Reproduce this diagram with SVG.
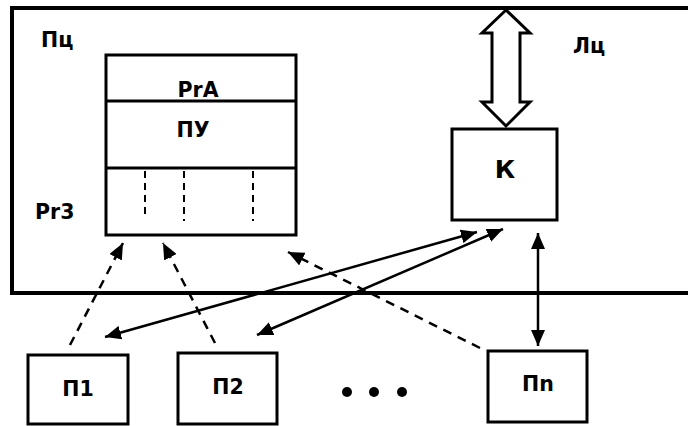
<svg xmlns="http://www.w3.org/2000/svg" width="688" height="426" viewBox="0 0 688 426">
<defs>
<marker id="ah" viewBox="0 0 16 14" refX="16" refY="7" markerWidth="16" markerHeight="14" markerUnits="userSpaceOnUse" orient="auto-start-reverse">
<path d="M0,0 L16,7 L0,14 Z" fill="#000"/>
</marker>
<style>
.t{font-family:"DejaVu Sans","Liberation Sans",Arial,sans-serif;font-weight:bold;font-size:20.5px;fill:#000}
.big{font-size:25px}
.box{fill:#fff;stroke:#000;stroke-width:3}
.ln{fill:none;stroke:#000;stroke-width:2.5}
.dl{fill:none;stroke:#000;stroke-width:2.5;stroke-dasharray:9,7}
.rd{fill:none;stroke:#000;stroke-width:2;stroke-dasharray:7,5}
</style>
</defs>
<rect width="688" height="426" fill="#fff"/>
<g id="Pc">
<rect x="12" y="8" width="700" height="285" fill="none" stroke="#000" stroke-width="4"/>
<text class="t" x="41" y="47">Пц</text>
<text class="t" x="573" y="53">Лц</text>
</g>
<g id="register">
<rect class="box" x="106" y="55" width="190" height="180"/>
<line x1="106" y1="101" x2="296" y2="101" stroke="#000" stroke-width="3"/>
<line x1="106" y1="168" x2="296" y2="168" stroke="#000" stroke-width="3"/>
<line class="rd" x1="145" y1="171" x2="145" y2="218"/>
<line class="rd" x1="184" y1="171" x2="184" y2="221"/>
<line class="rd" x1="253" y1="171" x2="253" y2="221"/>
<text class="t" x="198" y="97" text-anchor="middle">PrA</text>
<text class="t" x="193" y="137" text-anchor="middle">ПУ</text>
<text class="t" x="35" y="219">Pr3</text>
</g>
<g id="K">
<rect class="box" x="452" y="129" width="105" height="91"/>
<text class="t big" x="505" y="178" text-anchor="middle">К</text>
</g>
<g id="P1">
<rect class="box" x="28" y="355" width="100" height="69"/>
<text class="t" x="78" y="396" text-anchor="middle">П1</text>
</g>
<g id="P2">
<rect class="box" x="178" y="353" width="99" height="71"/>
<text class="t" x="228" y="394" text-anchor="middle">П2</text>
</g>
<g id="Pn">
<rect class="box" x="488" y="351" width="99" height="71"/>
<text class="t" x="538" y="391" text-anchor="middle">Пn</text>
</g>
<g id="dots">
<circle cx="347" cy="392" r="5"/>
<circle cx="374" cy="392" r="5"/>
<circle cx="402" cy="392" r="5"/>
</g>
<g id="connectors">
<path d="M506,10 L530,33 L520,33 L520,102 L530,102 L506,126 L482,102 L492,102 L492,33 L482,33 Z" fill="#fff" stroke="#000" stroke-width="3" stroke-linejoin="miter"/>
<line class="dl" x1="70" y1="345" x2="123" y2="243" marker-end="url(#ah)"/>
<line class="dl" x1="215" y1="343" x2="163" y2="243" marker-end="url(#ah)"/>
<line class="dl" x1="480" y1="348" x2="288" y2="252" marker-end="url(#ah)"/>
<line class="ln" x1="105" y1="337" x2="477" y2="232" marker-start="url(#ah)" marker-end="url(#ah)"/>
<line class="ln" x1="257" y1="335" x2="503" y2="229" marker-start="url(#ah)" marker-end="url(#ah)"/>
<line class="ln" x1="538" y1="233" x2="538" y2="346" marker-start="url(#ah)" marker-end="url(#ah)"/>
</g>
</svg>
